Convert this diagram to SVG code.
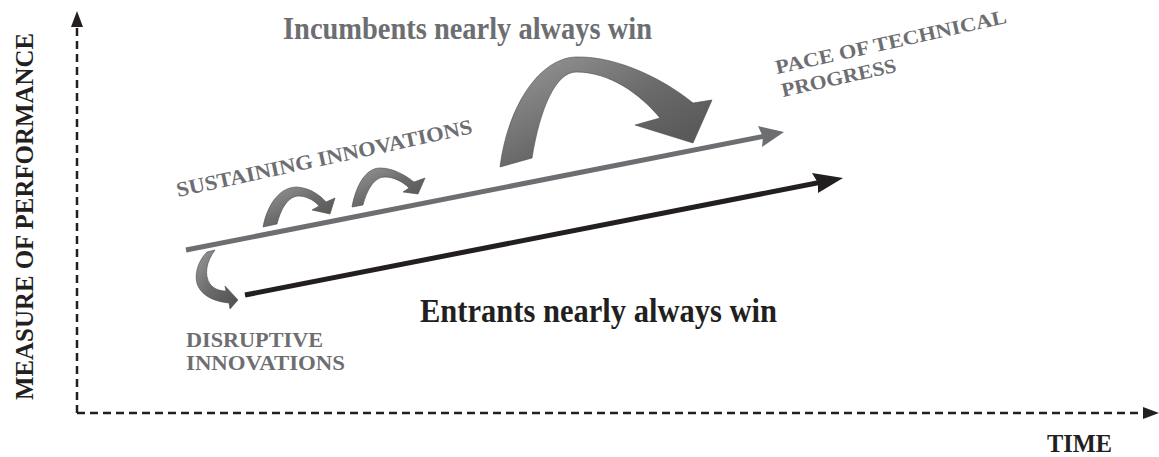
<svg xmlns="http://www.w3.org/2000/svg" width="1159" height="457" viewBox="0 0 1159 457">
<defs>
<style>
.axis{fill:none;stroke:#231f20;stroke-width:2.5;stroke-dasharray:8 5}
.gtxt{font-family:"Liberation Serif",serif;font-weight:bold;fill:#6d6e71}
.btxt{font-family:"Liberation Serif",serif;font-weight:bold;fill:#231f20}
.curl{fill:url(#cg);stroke:#4a4a4a;stroke-width:0.6}
</style>
<linearGradient id="cg" x1="0" y1="0" x2="1" y2="1">
<stop offset="0" stop-color="#9a9a9a"/>
<stop offset="0.5" stop-color="#6a6a6a"/>
<stop offset="1" stop-color="#4f4f4f"/>
</linearGradient>
</defs>
<rect width="1159" height="457" fill="#ffffff"/>
<g id="axes">
<line class="axis" x1="77" y1="413" x2="77" y2="24"/>
<path d="M77,11 L71,27 L83,27 Z" fill="#231f20"/>
<line class="axis" x1="77" y1="413" x2="1146" y2="413"/>
<path d="M1159,413 L1143,407 L1143,419 Z" fill="#231f20"/>
</g>
<g id="connectors">
<line x1="186" y1="250" x2="765" y2="136" stroke="#6d6e71" stroke-width="5"/>
<path d="M784,132 L758,126 L763,137 L762,147 Z" fill="#6d6e71"/>
<line x1="245" y1="295" x2="822" y2="182" stroke="#231f20" stroke-width="5"/>
<path d="M843,178 L812,173 L818,183 L818,193 Z" fill="#231f20"/>
</g>
<g id="big-arrow">
<path class="curl" d="M500,167 C508,105 540,58 576,57 C618,56 665,80 693,103 L712,100 L693,143 L635,125 L660,118 C640,94 610,72 576,72 C556,72 540,108 532,158 Z"/>
</g>
<g id="small-arrow-1">
<path class="curl" d="M263,227 C268,202 281,187 297,187 C310,188 320,195 326,202 L335,198 L330,214 L312,210 L319,206 C313,199 305,196 298,196 C288,197 281,208 277,224 Z"/>
</g>
<g id="small-arrow-2">
<path class="curl" d="M352,207 C356,185 366,168 380,168 C393,168 405,175 414,182 L425,178 L418,194 L403,192 L409,188 C402,181 393,177 385,177 C374,177 367,190 363,205 Z"/>
</g>
<g id="disruptive-arrow">
<path class="curl" d="M207,252 L215,250 C206,262 204,275 210,284 C214,289 220,291 226,291 L225,286 L238,300 L230,309 L229,303 C218,302 205,298 199,288 C193,278 197,262 207,252 Z"/>
</g>
<g id="label-y-axis">
<text class="btxt" transform="translate(33,400) rotate(-90)" font-size="26" textLength="367" lengthAdjust="spacingAndGlyphs">MEASURE OF PERFORMANCE</text>
</g>
<g id="label-time">
<text class="btxt" x="1047" y="452" font-size="25" textLength="65" lengthAdjust="spacingAndGlyphs">TIME</text>
</g>
<g id="label-incumbents">
<text class="gtxt" x="283" y="39" font-size="31" textLength="369" lengthAdjust="spacingAndGlyphs">Incumbents nearly always win</text>
</g>
<g id="label-entrants">
<text class="btxt" x="420" y="322" font-size="33" textLength="357" lengthAdjust="spacingAndGlyphs">Entrants nearly always win</text>
</g>
<g id="label-sustaining">
<text class="gtxt" transform="translate(178,197) rotate(-12.2)" font-size="21" textLength="302" lengthAdjust="spacingAndGlyphs">SUSTAINING INNOVATIONS</text>
</g>
<g id="label-pace">
<text class="gtxt" transform="translate(777,74) rotate(-12.5)" font-size="20">
<tspan x="0" y="0" textLength="235" lengthAdjust="spacingAndGlyphs">PACE OF TECHNICAL</tspan>
<tspan x="1" y="23.7" textLength="117" lengthAdjust="spacingAndGlyphs">PROGRESS</tspan>
</text>
</g>
<g id="label-disruptive">
<text class="gtxt" font-size="20">
<tspan x="186" y="347" textLength="137" lengthAdjust="spacingAndGlyphs">DISRUPTIVE</tspan>
<tspan x="186" y="370" textLength="159" lengthAdjust="spacingAndGlyphs">INNOVATIONS</tspan>
</text>
</g>
</svg>
